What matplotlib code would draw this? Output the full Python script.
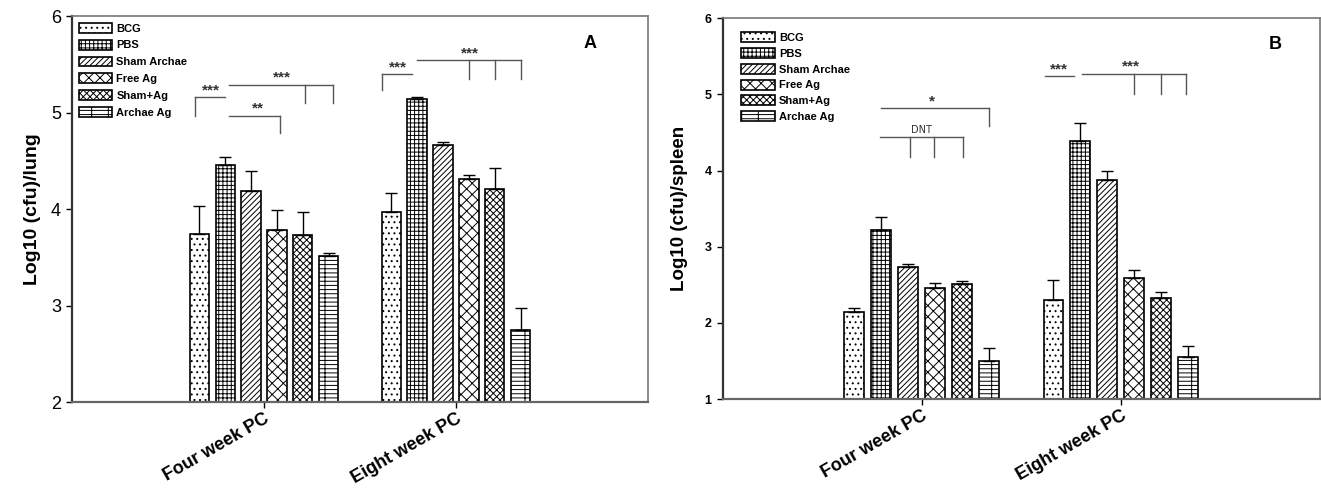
import numpy as np
import matplotlib
matplotlib.use("Agg")
import matplotlib.pyplot as plt

plt.rcParams['font.family'] = ['Liberation Sans', 'DejaVu Sans']
plt.rcParams['hatch.linewidth'] = 0.7

groups = ['Four week PC', 'Eight week PC']
treatments = ['BCG', 'PBS', 'Sham Archae', 'Free Ag', 'Sham+Ag', 'Archae Ag']
hatches = ['...', '++++', '//////', 'xxx', 'xxxxx', '----|']

# lung (panel A): mean and upward error, per treatment, [four week, eight week]
lung_mean = [[3.74, 3.97], [4.46, 5.14], [4.19, 4.66], [3.78, 4.31], [3.73, 4.21], [3.51, 2.75]]
lung_err = [[0.29, 0.20], [0.08, 0.02], [0.21, 0.04], [0.21, 0.04], [0.24, 0.22], [0.04, 0.23]]

# spleen (panel B)
spleen_mean = [[2.15, 2.30], [3.22, 4.39], [2.74, 3.88], [2.46, 2.59], [2.51, 2.33], [1.50, 1.55]]
spleen_err = [[0.05, 0.26], [0.17, 0.23], [0.04, 0.11], [0.07, 0.10], [0.04, 0.07], [0.17, 0.15]]

# significance brackets: (label, group, start bar, end bar, y, drop bars, y bottom, text bar)
lung_sig = [
    ('***', 0, -0.15, 1.0, 5.16, [-0.15], 4.97, 0.45),
    ('***', 0, 1.15, 5.15, 5.29, [4.1, 5.15], 5.10, 3.2),
    ('**', 0, 1.15, 3.1, 4.97, [3.1], 4.79, 2.25),
    ('***', 1, -0.36, 0.8, 5.40, [-0.36], 5.23, 0.25),
    ('***', 1, 1.0, 5.0, 5.54, [3.0, 4.0, 5.0], 5.35, 3.05),
]
spleen_sig = [
    ('*', 0, 1.0, 5.0, 4.82, [5.0], 4.58, 2.9),
    ('DNT', 0, 0.95, 4.05, 4.44, [2.05, 2.95, 4.05], 4.18, 2.5),
    ('***', 1, -0.3, 0.76, 5.24, [], 5.24, 0.2),
    ('***', 1, 1.05, 4.95, 5.27, [3.0, 4.0, 4.95], 5.01, 2.9),
]

pitch = 0.135
width = 0.1
centers = np.array([1.0, 2.0])


def bar_x(g, i):
    return centers[g] + (i - 2.5) * pitch


def draw_panel(ax, means, errs, sig, ylim, ylabel, letter, tick_size, tick_bold,
               label_size, label_pad, leg_anchor, leg_spacing):
    for i, name in enumerate(treatments):
        xs = centers + (i - 2.5) * pitch
        ax.bar(xs, means[i], width, bottom=0, color='white', edgecolor='black',
               linewidth=1.2, hatch=hatches[i], label=name, zorder=2)
        ax.errorbar(xs, means[i], yerr=[np.zeros(2), errs[i]], fmt='none',
                    ecolor='black', elinewidth=1.0, capsize=4.5, capthick=1.0, zorder=3)

    for label, g, s, e, y, drops, ybot, tx in sig:
        ax.plot([bar_x(g, s), bar_x(g, e)], [y, y], color='#555555', lw=1.0, zorder=4)
        for d in drops:
            ax.plot([bar_x(g, d), bar_x(g, d)], [y, ybot], color='#555555', lw=1.0, zorder=4)
        if label == 'DNT':
            ax.text(bar_x(g, tx), y + 0.03, label, ha='center', va='bottom', fontsize=7,
                    family=['DejaVu Sans Condensed', 'DejaVu Sans'], color='#333333')
        else:
            ax.text(bar_x(g, tx), y, label, ha='center', va='bottom', fontsize=11,
                    fontweight='bold', color='#333333')

    ax.set_xlim(0, 3)
    ax.set_ylim(*ylim)
    ax.set_yticks(np.arange(ylim[0], ylim[1] + 1))
    ax.set_xticks(centers)
    ax.set_xticklabels(groups, rotation=30, ha='right', rotation_mode='anchor',
                       fontsize=13, fontweight='bold')
    ax.tick_params(axis='x', length=4, width=1, direction='out', pad=2)
    ax.tick_params(axis='y', length=4, width=1, direction='out', labelsize=tick_size, pad=4)
    if tick_bold:
        for t in ax.get_yticklabels():
            t.set_fontweight('bold')
    ax.set_ylabel(ylabel, fontsize=label_size, fontweight='bold', labelpad=label_pad)
    ax.spines['left'].set_color('#333333')
    ax.spines['left'].set_linewidth(1.6)
    ax.spines['bottom'].set_color('#666666')
    ax.spines['bottom'].set_linewidth(1.6)
    for s in ['top', 'right']:
        ax.spines[s].set_color('#777777')
        ax.spines[s].set_linewidth(1.2)
    ax.text(0.9 if letter == 'A' else 0.925, 0.93, letter, transform=ax.transAxes,
            fontsize=13, fontweight='bold', ha='center', va='center')
    ax.legend(loc='upper left', bbox_to_anchor=leg_anchor, frameon=False,
              handlelength=3.0, handleheight=1.0,
              labelspacing=leg_spacing, borderpad=0.1, handletextpad=0.4,
              prop={'weight': 'bold', 'size': 8})


fig = plt.figure(figsize=(13.21, 4.88), dpi=100)
ax1 = fig.add_axes([0.0545, 0.176, 0.436, 0.791])
ax2 = fig.add_axes([0.547, 0.182, 0.452, 0.781])

draw_panel(ax1, lung_mean, lung_err, lung_sig, (2, 6), 'Log10 (cfu)/lung', 'A',
           13, False, 14, 7, (0.0, 1.0), 0.55)
draw_panel(ax2, spleen_mean, spleen_err, spleen_sig, (1, 6), 'Log10 (cfu)/spleen', 'B',
           9, True, 13.5, 12, (0.02, 0.98), 0.45)

fig.savefig('out.png', dpi=100)
